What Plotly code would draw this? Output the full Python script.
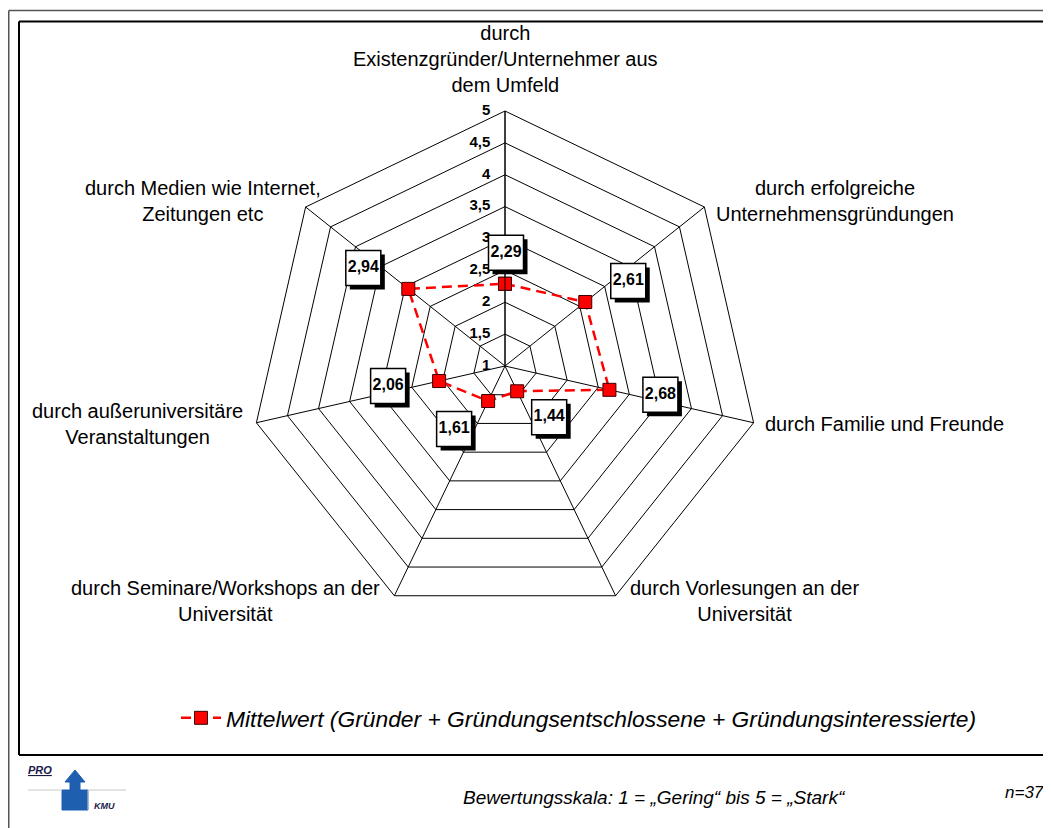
import math
import plotly.graph_objects as go

W, H = 1051, 828
OFF = 8  # Rand des <body> im Browser
FONT = "Liberation Sans, Arial, sans-serif"

# Daten
categories = [
    "durch<br>Existenzgründer/Unternehmer aus<br>dem Umfeld",
    "durch erfolgreiche<br>Unternehmensgründungen",
    "durch Familie und Freunde",
    "durch Vorlesungen an der<br>Universität",
    "durch Seminare/Workshops an der<br>Universität",
    "durch außeruniversitäre<br>Veranstaltungen",
    "durch Medien wie Internet,<br>Zeitungen etc",
]
values = [2.29, 2.61, 2.68, 1.44, 1.61, 2.06, 2.94]
tick_vals = [1, 1.5, 2, 2.5, 3, 3.5, 4, 4.5, 5]
tick_text = ["1", "1,5", "2", "2,5", "3", "3,5", "4", "4,5", "5"]
series_name = "Mittelwert (Gründer + Gründungsentschlossene + Gründungsinteressierte)"
scale_note = "Bewertungsskala: 1 = „Gering“ bis 5 = „Stark“"
n_note = "n=37"

# Layout (Pixel im Bild)
CX, CY, R_PX = 505, 366, 255
R_MIN, R_MAX = 1, 5
# Versatz der Wertkästchen zum Punkt (rechts, oben) in Pixel
label_offsets = [(1, 31), (43, 21), (51, -5), (32, -26), (-34, -28), (-51, -5), (-45, 21)]
# Position der Achsenbeschriftungen (x, Mitte y, Ausrichtung)
cat_pos = [(505, 59, "center"), (835, 201, "center"), (763, 424, "left"),
           (744, 601, "center"), (225, 601, "center"), (137, 424, "center"),
           (203, 201, "center")]


def px(x, y):
    return (x - OFF) / W, 1 - (y - OFF) / H


dom_x = [(CX - OFF - R_PX) / W, (CX - OFF + R_PX) / W]
dom_y = [(H - (CY - OFF) - R_PX) / H, (H - (CY - OFF) + R_PX) / H]

n = len(categories)
k = R_PX / (R_MAX - R_MIN)


def to_polar(v, i, dx, dy):
    a = math.radians(i * 360 / n)
    x = (v - R_MIN) * k * math.sin(a) + dx
    y = (v - R_MIN) * k * math.cos(a) + dy
    return R_MIN + math.hypot(x, y) / k, math.degrees(math.atan2(x, y)) % 360


lab_r, lab_t, sh_r, sh_t = [], [], [], []
for i, v in enumerate(values):
    dx, dy = label_offsets[i]
    r, t = to_polar(v, i, dx, dy)
    lab_r.append(r); lab_t.append(t)
    r, t = to_polar(v, i, dx + 4, dy - 4)
    sh_r.append(r); sh_t.append(t)

fig = go.Figure()

# Skalenbeschriftung an der oberen Achse
fig.add_trace(go.Scatterpolar(
    r=[max(v, R_MIN + 1e-3) for v in tick_vals],
    theta=[categories[0]] * len(tick_vals),
    mode="markers+text", text=tick_text, textposition="middle left",
    textfont=dict(family=FONT, size=15, color="black", weight="bold"),
    marker=dict(size=22, color="rgba(0,0,0,0)"),
    cliponaxis=False,
    showlegend=False, hoverinfo="skip", subplot="polar",
))

fig.add_trace(go.Scatterpolar(
    r=values + values[:1], theta=categories + categories[:1],
    mode="lines+markers", name=series_name,
    line=dict(color="#FF0000", width=2.5, dash="10px,6px"),
    marker=dict(symbol="square", size=13, color="#FF0000",
                line=dict(color="#3a0000", width=1)),
    subplot="polar",
))

# Wertkästchen mit Schatten
fig.add_trace(go.Scatterpolar(
    r=sh_r, theta=sh_t, mode="markers", showlegend=False,
    marker=dict(symbol="square", size=35, color="black"),
    subplot="polar2", hoverinfo="skip",
))
fig.add_trace(go.Scatterpolar(
    r=lab_r, theta=lab_t, mode="markers+text", showlegend=False,
    text=[f"{v:.2f}".replace(".", ",") for v in values],
    textposition="middle center",
    textfont=dict(family=FONT, size=16, color="black", weight="bold"),
    marker=dict(symbol="square", size=35, color="white",
                line=dict(color="black", width=1.5)),
    subplot="polar2", hoverinfo="skip",
))

fig.update_layout(
    width=W, height=H,
    margin=dict(l=0, r=0, t=0, b=0),
    paper_bgcolor="white",
    font=dict(family=FONT, color="black"),
    polar=dict(
        domain=dict(x=dom_x, y=dom_y),
        bgcolor="white",
        gridshape="linear",
        radialaxis=dict(
            range=[R_MIN, R_MAX], tickvals=tick_vals, showticklabels=False,
            angle=90, showline=True, linecolor="black", linewidth=1,
            gridcolor="black", gridwidth=1, ticks="",
        ),
        angularaxis=dict(
            type="category", rotation=90, direction="clockwise",
            showticklabels=False, ticks="",
            showline=True, linecolor="black", linewidth=1,
            gridcolor="black", gridwidth=1,
        ),
    ),
    polar2=dict(
        domain=dict(x=dom_x, y=dom_y),
        bgcolor="rgba(0,0,0,0)",
        radialaxis=dict(range=[R_MIN, R_MAX], autorange=False, visible=False),
        angularaxis=dict(rotation=90, direction="clockwise", visible=False),
    ),
    legend=dict(
        orientation="h", x=px(176, 0)[0], y=px(0, 718)[1],
        xanchor="left", yanchor="middle", itemwidth=40,
        bgcolor="rgba(0,0,0,0)",
        font=dict(family=FONT, size=22.8, style="italic", color="black"),
    ),
)

# Achsenbeschriftungen
for text, (x, y, anchor) in zip(categories, cat_pos):
    ax, ay = px(x, y)
    fig.add_annotation(x=ax, y=ay, xref="paper", yref="paper", text=text,
                       showarrow=False, xanchor=anchor, yanchor="middle",
                       align="center", font=dict(family=FONT, size=20))

# Rahmen
shapes = [
    dict(x0=8.75, y0=10.5, x1=W + 20, y1=10.5, color="#555555", width=1.5),
    dict(x0=8.75, y0=10.5, x1=8.75, y1=H + 20, color="#555555", width=1.5),
    dict(x0=19, y0=21.5, x1=W + 20, y1=21.5, color="black", width=2),
    dict(x0=19, y0=21.5, x1=19, y1=755, color="black", width=2),
    dict(x0=19, y0=755, x1=W + 20, y1=755, color="black", width=2),
]
for s in shapes:
    x0, y0 = px(s["x0"], s["y0"])
    x1, y1 = px(s["x1"], s["y1"])
    fig.add_shape(type="line", xref="paper", yref="paper", x0=x0, y0=y0,
                  x1=x1, y1=y1, line=dict(color=s["color"], width=s["width"]))

# Logo PRO-KMU
fig.add_annotation(x=px(26, 0)[0], y=px(0, 770)[1], xref="paper", yref="paper",
                   text="<b><i><u>PRO</u></i></b>", showarrow=False,
                   xanchor="left", yanchor="middle",
                   font=dict(family=FONT, size=11, color="#1a1a4a"))
fig.add_annotation(x=px(92, 0)[0], y=px(0, 806)[1], xref="paper", yref="paper",
                   text="<b><i>KMU</i></b>", showarrow=False,
                   xanchor="left", yanchor="middle",
                   font=dict(family=FONT, size=9, color="#1a1a4a"))
logo = [(62, 810), (62, 790), (70, 790), (70, 782), (65, 782), (75, 770),
        (85, 782), (80, 782), (80, 790), (88, 790), (88, 810)]
path = "M " + " L ".join(f"{px(x, y)[0]},{px(x, y)[1]}" for x, y in logo) + " Z"
fig.add_shape(type="path", xref="paper", yref="paper", path=path,
              fillcolor="#1f5fb0", line=dict(color="#1f5fb0", width=1))
for (x0, y0, x1, y1) in [(28, 790, 62, 790), (88, 790, 126, 790), (88, 790, 88, 810)]:
    a0, b0 = px(x0, y0)
    a1, b1 = px(x1, y1)
    fig.add_shape(type="line", xref="paper", yref="paper", x0=a0, y0=b0,
                  x1=a1, y1=b1, line=dict(color="#c8c8c8", width=1))

fig.add_annotation(x=px(654, 0)[0], y=px(0, 797)[1], xref="paper", yref="paper",
                   text=f"<i>{scale_note}</i>", showarrow=False,
                   xanchor="center", yanchor="middle",
                   font=dict(family=FONT, size=19))
fig.add_annotation(x=px(1046, 0)[0], y=px(0, 792)[1], xref="paper", yref="paper",
                   text=f"<i>{n_note}</i>", showarrow=False,
                   xanchor="right", yanchor="middle",
                   font=dict(family=FONT, size=17))

fig.write_html("out.html")
